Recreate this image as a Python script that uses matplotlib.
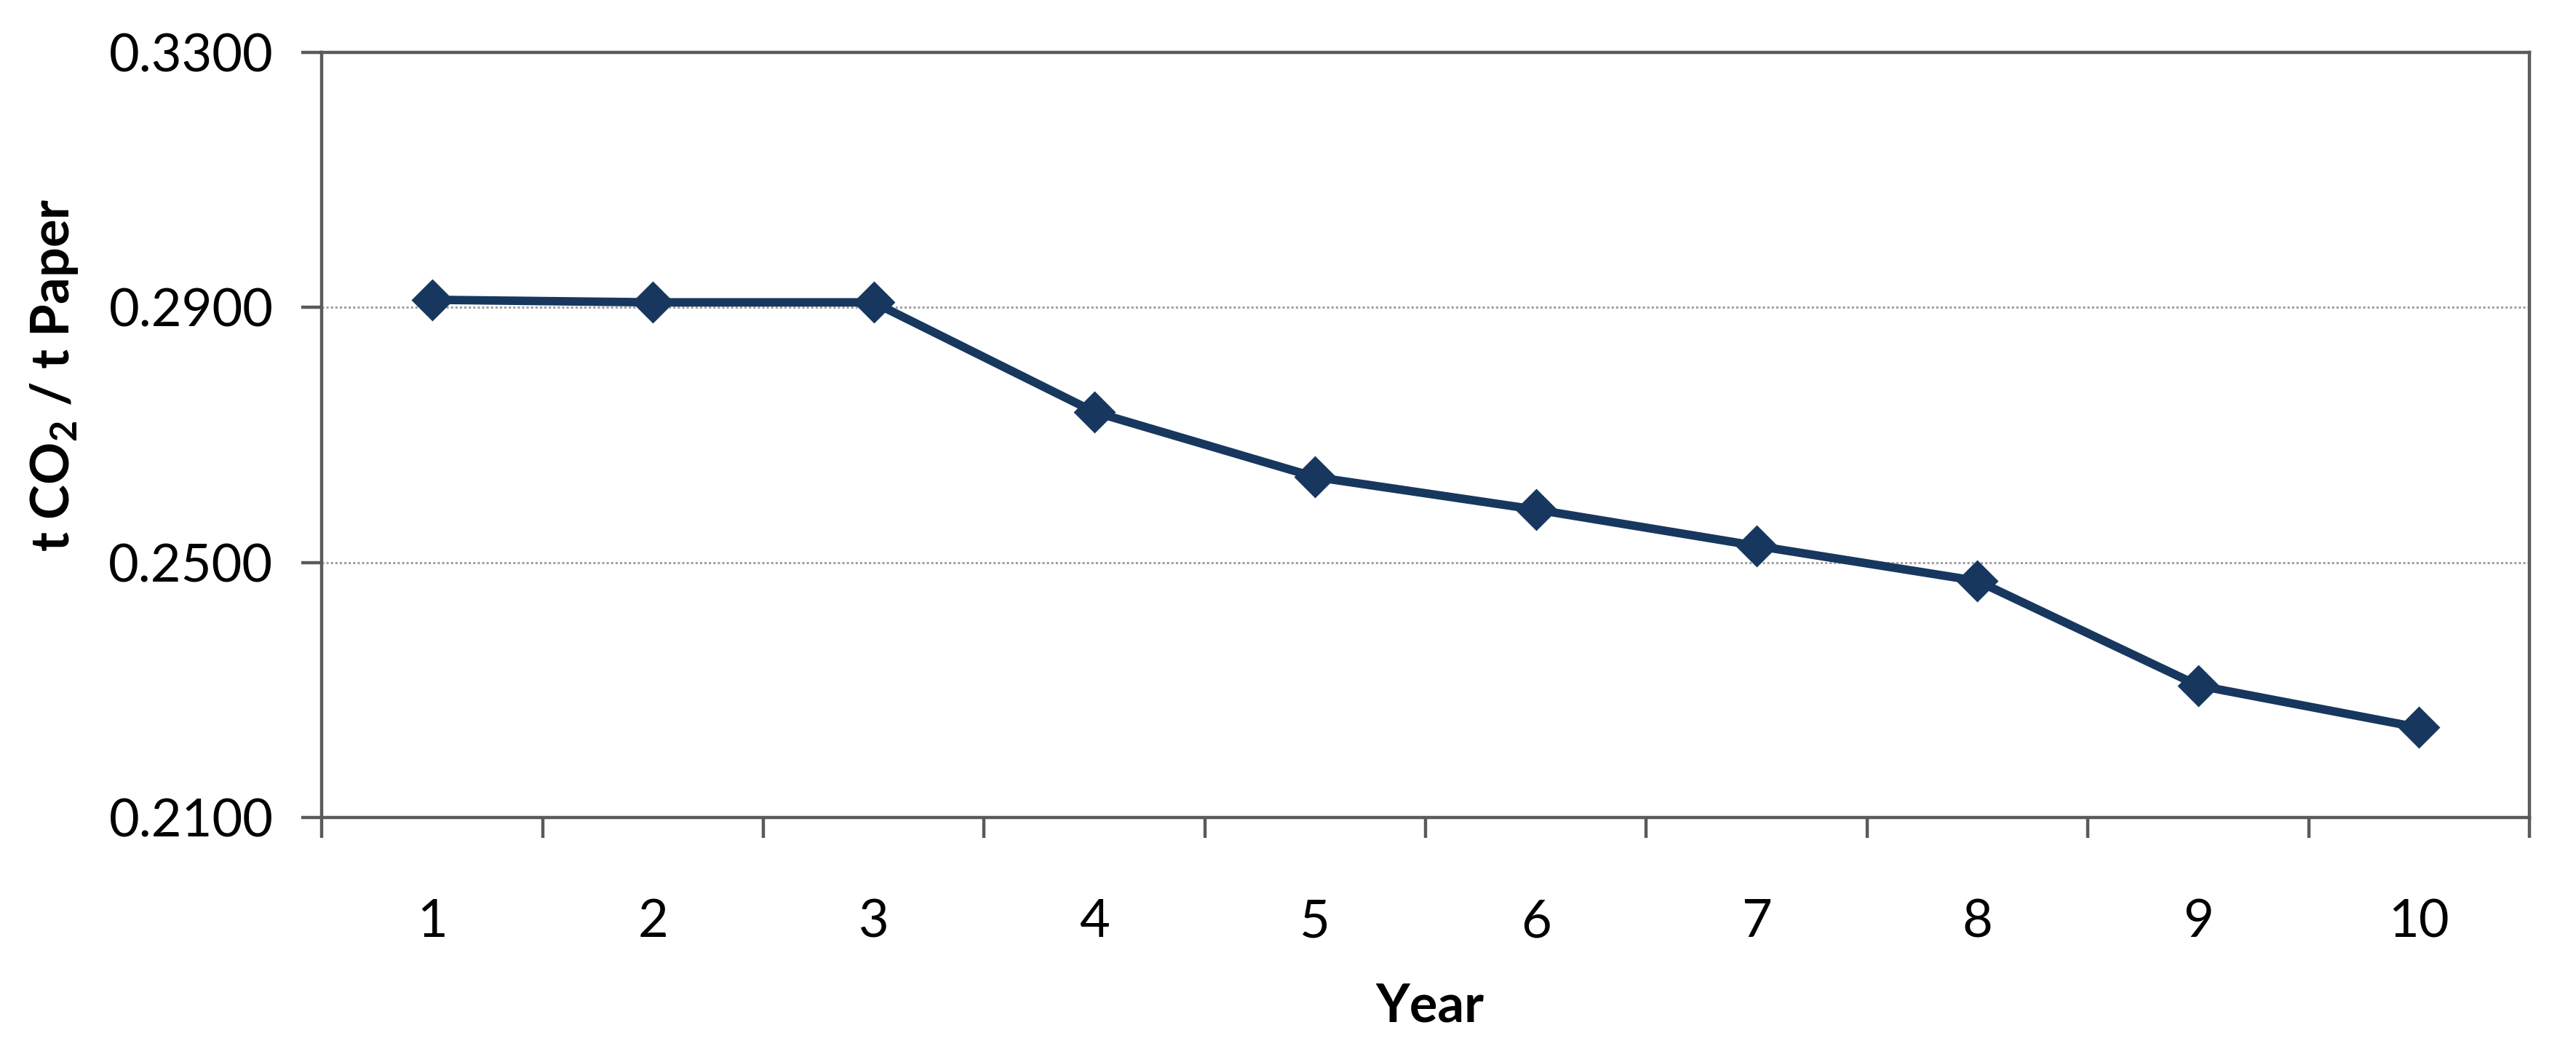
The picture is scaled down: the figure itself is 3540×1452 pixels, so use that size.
import matplotlib
matplotlib.use("Agg")
import matplotlib.pyplot as plt
from matplotlib.ticker import FixedLocator, FormatStrFormatter

years = [1, 2, 3, 4, 5, 6, 7, 8, 9, 10]
co2_per_paper = [0.2912, 0.2908, 0.2908, 0.2736, 0.2634, 0.2583, 0.2526, 0.2471, 0.2307, 0.2241]
y_ticks = [0.21, 0.25, 0.29, 0.33]

plt.rcParams['font.family'] = ['Lato', 'DejaVu Sans']
plt.rcParams['mathtext.fontset'] = 'custom'
plt.rcParams['mathtext.rm'] = 'Lato'
plt.rcParams['mathtext.bf'] = 'Lato:bold'

line_colour = "#17375e"
axis_colour = "#5a5a5a"

fig = plt.figure(figsize=(17.7, 7.26), dpi=200)
ax = fig.add_axes([0.1249, 0.2266, 0.857, 0.7238])

# dotted gridlines only at the inner ticks
for y in y_ticks[1:-1]:
    ax.axhline(y, color="#a0a0a0", linestyle=(0, (1, 1)), linewidth=1.1, zorder=1)

ax.plot(years, co2_per_paper, color=line_colour, linewidth=4.2,
        marker="D", markersize=14, markerfacecolor=line_colour,
        markeredgecolor=line_colour, zorder=3)

ax.set_xlim(0.5, 10.5)
ax.set_ylim(0.21, 0.33)

ax.yaxis.set_major_locator(FixedLocator(y_ticks))
ax.yaxis.set_major_formatter(FormatStrFormatter("%.4f"))
ax.tick_params(axis="y", direction="out", length=10, width=1.6,
               color=axis_colour, labelsize=26, pad=14)

# labels at year centres, tick marks between years
ax.set_xticks(years)
ax.set_xticks([x - 0.5 for x in years] + [10.5], minor=True)
ax.tick_params(axis="x", which="major", length=0, labelsize=26, pad=40)
ax.tick_params(axis="x", which="minor", direction="out", length=10,
               width=1.6, color=axis_colour)

for side in ["left", "right", "top", "bottom"]:
    ax.spines[side].set_color(axis_colour)
    ax.spines[side].set_linewidth(1.6)

fig.text(75 / 3540, 1 - 515 / 1452, r"t CO$_\mathbf{2}$ / t Paper",
         rotation=90, ha="center", va="center", fontsize=26, fontweight="bold")
fig.text(1965 / 3540, 1 - 1383 / 1452, "Year", ha="center", va="center",
         fontsize=26, fontweight="bold")

fig.savefig("out.png", dpi=200, facecolor="white")
